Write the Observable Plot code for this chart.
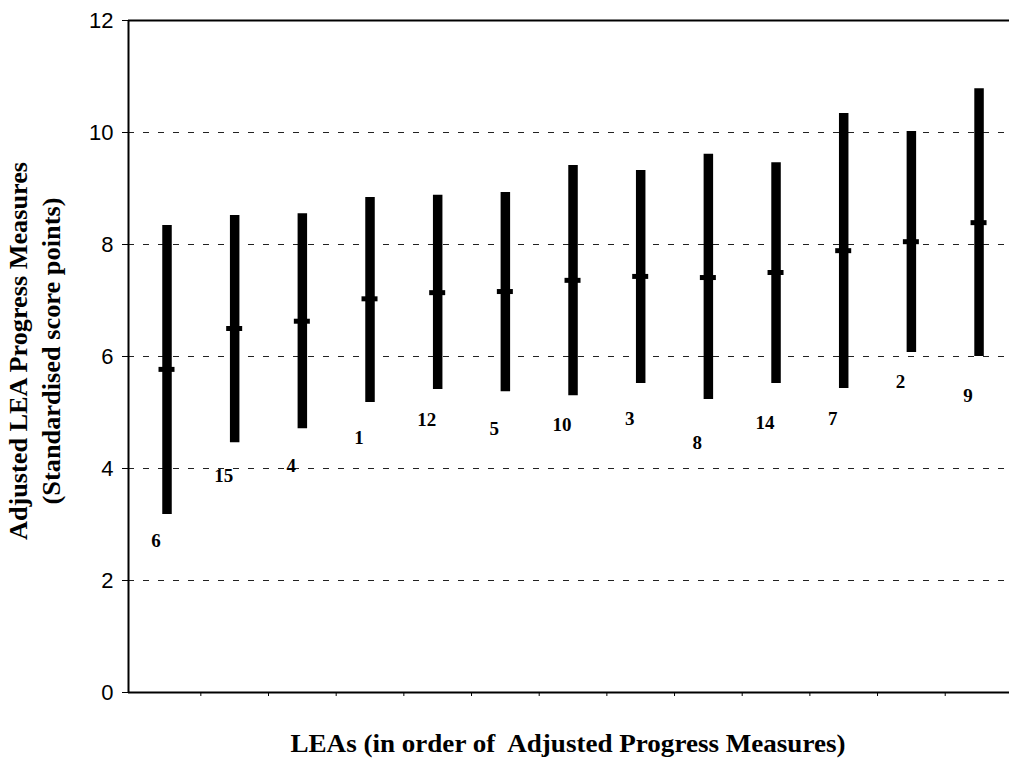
<!DOCTYPE html>
<html><head><meta charset="utf-8">
<script src="https://cdn.jsdelivr.net/npm/d3@7"></script>
<script src="https://cdn.jsdelivr.net/npm/@observablehq/plot@0.6"></script>
<style>body{margin:0;background:#fff;} #chart svg{display:block;}</style>
</head><body><div id="chart"></div>
<script>
// LEA identifiers in order of adjusted progress measure
const leas   = ["6","15","4","1","12","5","10","3","8","14","7","2","9"];
const means  = [5.77,6.50,6.63,7.03,7.14,7.16,7.36,7.43,7.41,7.50,7.89,8.05,8.39];
const lows   = [3.18,4.46,4.71,5.18,5.41,5.37,5.30,5.52,5.23,5.52,5.43,6.07,6.00];
const highs  = [8.34,8.52,8.55,8.84,8.88,8.93,9.41,9.32,9.61,9.46,10.34,10.02,10.78];
const labelY = [2.71,3.86,4.04,4.54,4.86,4.71,4.77,4.89,4.45,4.82,4.88,5.54,5.30];
const yTicks = [0,2,4,6,8,10,12];
const gridTicks = [2,4,6,8,10];
const xTitle = "LEAs (in order of\u00a0 Adjusted Progress Measures)";
const yTitle1 = "Adjusted LEA Progress Measures";
const yTitle2 = "(Standardised score points)";

const data = leas.map((lea, i) => ({i, lea, mean: means[i], low: lows[i], high: highs[i], ly: labelY[i]}));
const boundaries = leas.slice(1).map((_, i) => i + 0.5);
const xDomain = [-0.569, 12.45];

const W = 1009, H = 768;
const chart = Plot.plot({
  width: W, height: H,
  marginLeft: 128, marginRight: 0, marginTop: 20, marginBottom: 76,
  style: {fontFamily: "Liberation Sans, Arial, sans-serif", fontSize: "22px", background: "#fff", color: "#000"},
  x: {type: "linear", domain: xDomain, axis: null},
  y: {domain: [0, 12], axis: null},
  marks: [
    Plot.ruleY(gridTicks, {stroke: "#222", strokeWidth: 1, strokeDasharray: "6,9"}),
    Plot.axisY({ticks: yTicks, tickSize: 6, tickPadding: 9, fontSize: 22, label: null, stroke: "#000"}),
    Plot.axisX({ticks: boundaries, tickSize: 4, tickFormat: () => "", label: null, stroke: "#000"}),
    Plot.ruleY([0], {stroke: "#000", strokeWidth: 2}),
    Plot.ruleY([12], {stroke: "#000", strokeWidth: 2}),
    Plot.ruleX([xDomain[0]], {stroke: "#000", strokeWidth: 2}),
    Plot.ruleX(data, {x: "i", y1: "low", y2: "high", stroke: "#000", strokeWidth: 9.5}),
    Plot.ruleY(data, {y: "mean", x1: "i", x2: "i", insetLeft: -8, insetRight: -8, stroke: "#000", strokeWidth: 5}),
    Plot.text(data, {x: "i", y: "ly", text: "lea", dx: -11, fontFamily: "Liberation Serif, Times New Roman, serif", fontWeight: "bold", fontSize: 19, fill: "#000"})
  ]
});
document.getElementById("chart").appendChild(chart);

const svg = d3.select(chart);
const serif = "Liberation Serif, Times New Roman, serif";
svg.append("text")
  .attr("x", 568).attr("y", 752)
  .attr("text-anchor", "middle")
  .attr("font-family", serif).attr("font-weight", "bold").attr("font-size", 25)
  .attr("textLength", 555).attr("lengthAdjust", "spacingAndGlyphs")
  .attr("fill", "#000")
  .text(xTitle);
svg.append("text")
  .attr("transform", "translate(27,351) rotate(-90)")
  .attr("text-anchor", "middle")
  .attr("font-family", serif).attr("font-weight", "bold").attr("font-size", 25)
  .attr("textLength", 378).attr("lengthAdjust", "spacingAndGlyphs")
  .attr("fill", "#000")
  .text(yTitle1);
svg.append("text")
  .attr("transform", "translate(60,351) rotate(-90)")
  .attr("text-anchor", "middle")
  .attr("font-family", serif).attr("font-weight", "bold").attr("font-size", 25)
  .attr("textLength", 307).attr("lengthAdjust", "spacingAndGlyphs")
  .attr("fill", "#000")
  .text(yTitle2);
</script>
</body></html>
